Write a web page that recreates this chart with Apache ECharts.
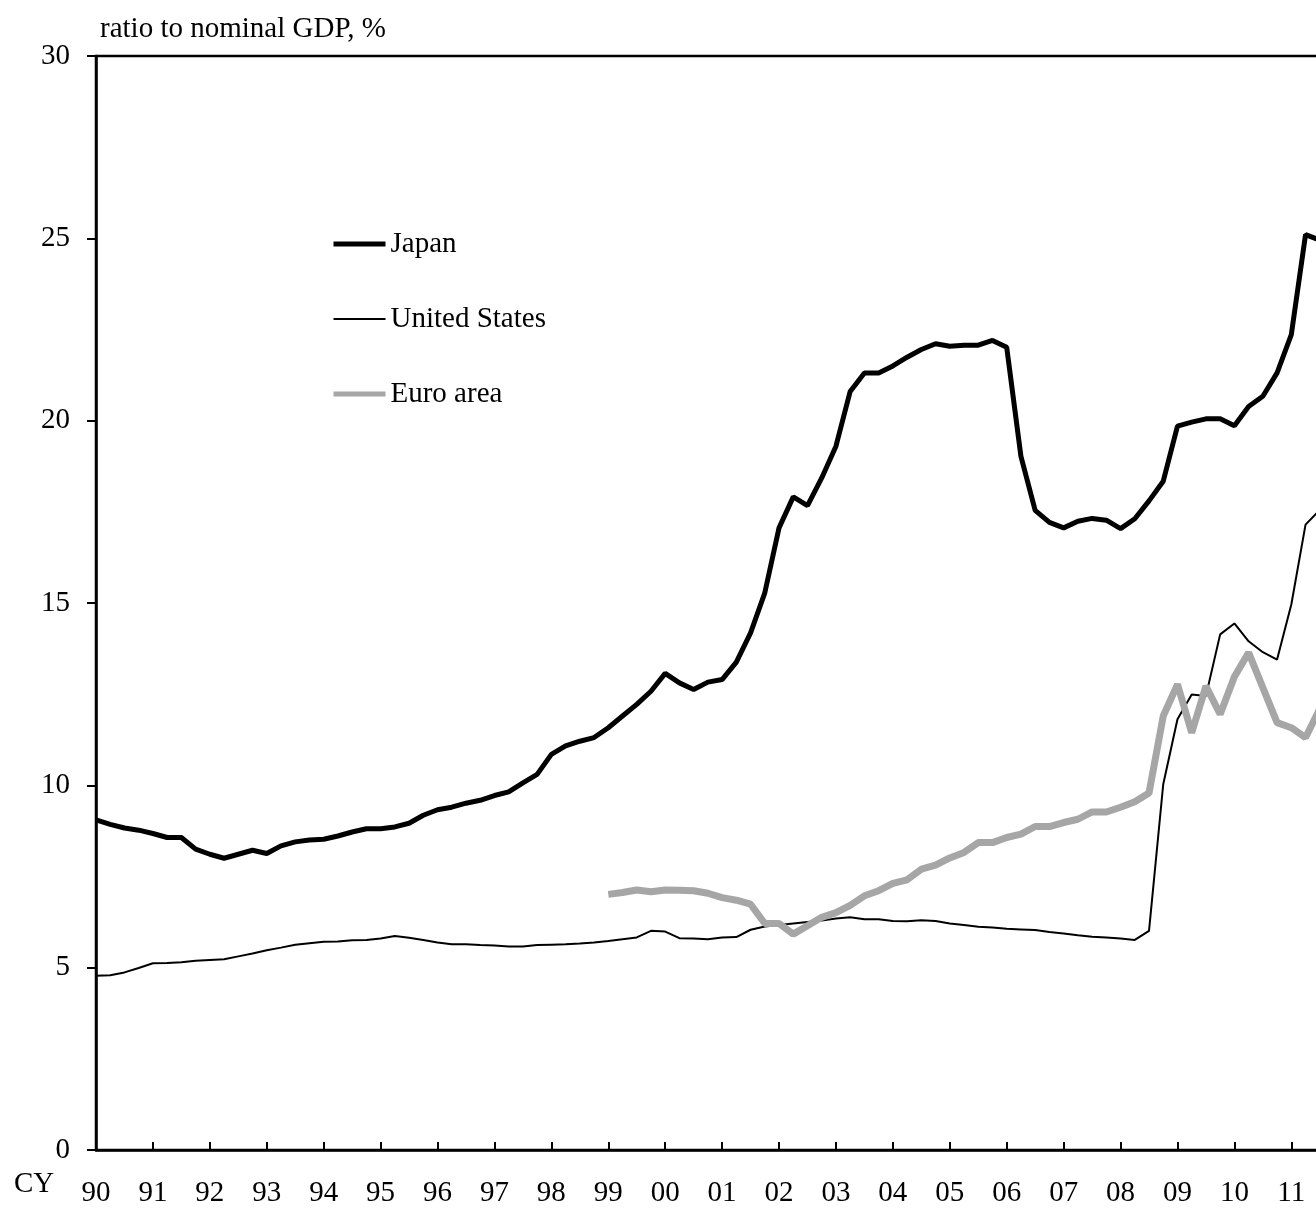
<!DOCTYPE html>
<html lang="en">
<head>
    <meta charset="UTF-8">
    <title>Ratio to nominal GDP</title>
    <style>
        html, body { margin: 0; padding: 0; overflow: hidden; background: #fff; }
    </style>
</head>
<body>
    <div id="myChart" style="width: 1340px;height:1208px;"></div>
</body>
<script src="https://cdn.jsdelivr.net/npm/echarts@6/dist/echarts.min.js"></script>
<script>
    // quarterly, 90Q1 .. 11Q4
    let years = ['90', '91', '92', '93', '94', '95', '96', '97', '98', '99', '00',
                 '01', '02', '03', '04', '05', '06', '07', '08', '09', '10', '11'];
    let categories = [];
    years.forEach(function (y) {
      for (let q = 1; q <= 4; q++) categories.push(y + 'Q' + q);
    });

    let japan = [
      9.05, 8.93, 8.83, 8.77, 8.68, 8.57, 8.57, 8.25, 8.11, 8.00, 8.11, 8.22,
      8.13, 8.34, 8.45, 8.50, 8.52, 8.61, 8.72, 8.81, 8.81, 8.86, 8.96, 9.18,
      9.33, 9.40, 9.51, 9.59, 9.72, 9.82, 10.07, 10.30, 10.85, 11.08, 11.21, 11.31,
      11.58, 11.90, 12.22, 12.58, 13.07, 12.81, 12.63, 12.83, 12.90, 13.38, 14.18, 15.28,
      17.06, 17.91, 17.67, 18.43, 19.30, 20.80, 21.31, 21.31, 21.50, 21.74, 21.95, 22.11,
      22.04, 22.07, 22.07, 22.20, 22.01, 19.02, 17.54, 17.21, 17.06, 17.24, 17.32, 17.27,
      17.04, 17.31, 17.80, 18.34, 19.85, 19.96, 20.05, 20.05, 19.86, 20.39, 20.67, 21.31,
      22.36, 25.10, 24.95
    ];
    let unitedStates = [
      4.78, 4.79, 4.87, 4.99, 5.12, 5.13, 5.15, 5.19, 5.21, 5.23, 5.31, 5.39,
      5.48, 5.55, 5.63, 5.67, 5.71, 5.72, 5.75, 5.76, 5.80, 5.87, 5.82, 5.76,
      5.69, 5.64, 5.64, 5.62, 5.61, 5.58, 5.58, 5.62, 5.63, 5.64, 5.66, 5.69,
      5.73, 5.78, 5.83, 6.01, 5.99, 5.81, 5.80, 5.78, 5.83, 5.84, 6.04, 6.13,
      6.17, 6.21, 6.25, 6.29, 6.35, 6.38, 6.33, 6.33, 6.28, 6.27, 6.30, 6.28,
      6.21, 6.17, 6.12, 6.10, 6.07, 6.05, 6.03, 5.98, 5.94, 5.89, 5.85, 5.83,
      5.80, 5.76, 6.01, 10.03, 11.81, 12.49, 12.45, 14.14, 14.44, 13.95, 13.65, 13.45,
      14.96, 17.15, 17.55
    ];
    let euroArea = [
      null, null, null, null, null, null, null, null, null, null, null, null,
      null, null, null, null, null, null, null, null, null, null, null, null,
      null, null, null, null, null, null, null, null, null, null, null, null,
      7.01, 7.06, 7.13, 7.08, 7.13, 7.12, 7.11, 7.04, 6.92, 6.85, 6.74, 6.21,
      6.21, 5.92, 6.15, 6.38, 6.51, 6.71, 6.97, 7.11, 7.31, 7.41, 7.70, 7.81,
      8.01, 8.16, 8.43, 8.43, 8.57, 8.66, 8.87, 8.87, 8.98, 9.07, 9.27, 9.27,
      9.40, 9.55, 9.79, 11.90, 12.77, 11.44, 12.72, 11.95, 12.98, 13.64, 12.68, 11.72,
      11.58, 11.31, 12.10
    ];

    let font = '"Liberation Serif", "Times New Roman", serif';
    let chart = echarts.init(document.getElementById('myChart'));
    let option = {
      animation: false,
      backgroundColor: '#fff',
      textStyle: { fontFamily: font, color: '#000' },
      grid: {
        left: 96, top: 56, right: 6, bottom: 57,
        show: true, borderColor: '#000', borderWidth: 2.5
      },
      graphic: [
        { type: 'text', left: 100, top: 15,
          style: { text: 'ratio to nominal GDP, %', font: '29px ' + font, fill: '#000' } },
        { type: 'text', left: 14, top: 1170,
          style: { text: 'CY', font: '29px ' + font, fill: '#000' } }
      ],
      legend: {
        orient: 'vertical',
        left: 331, top: 229,
        padding: 0,
        itemWidth: 52, itemHeight: 14, itemGap: 45,
        itemStyle: { opacity: 0 },
        textStyle: { fontSize: 29, color: '#000', fontFamily: font, lineHeight: 30 },
        data: [
          { name: 'Japan', lineStyle: { width: 5, color: '#000' } },
          { name: 'United States', lineStyle: { width: 2, color: '#000' } },
          { name: 'Euro area', lineStyle: { width: 5, color: '#a6a6a6' } }
        ]
      },
      xAxis: {
        type: 'category',
        data: categories,
        boundaryGap: false,
        axisLine: { lineStyle: { color: '#000', width: 2.5 } },
        axisTick: { inside: true, length: 8, interval: 3, lineStyle: { color: '#000', width: 2 } },
        axisLabel: {
          interval: 3, margin: 29, fontSize: 29, color: '#000', fontFamily: font,
          formatter: function (v) { return v.slice(0, 2); }
        },
        splitLine: { show: false }
      },
      yAxis: {
        type: 'value',
        min: 0, max: 30, interval: 5,
        axisLine: { show: true, lineStyle: { color: '#000', width: 2.5 } },
        axisTick: { show: true, length: 9, lineStyle: { color: '#000', width: 2 } },
        axisLabel: { margin: 26, fontSize: 29, color: '#000', fontFamily: font },
        splitLine: { show: false }
      },
      series: [
        { name: 'Japan', type: 'line', data: japan, symbol: 'none',
          lineStyle: { color: '#000', width: 5 }, itemStyle: { color: '#000' } },
        { name: 'United States', type: 'line', data: unitedStates, symbol: 'none',
          lineStyle: { color: '#000', width: 2 }, itemStyle: { color: '#000' } },
        { name: 'Euro area', type: 'line', data: euroArea, symbol: 'none',
          lineStyle: { color: '#a6a6a6', width: 7 }, itemStyle: { color: '#a6a6a6' } }
      ]
    };
    chart.setOption(option);
</script>
</html>
